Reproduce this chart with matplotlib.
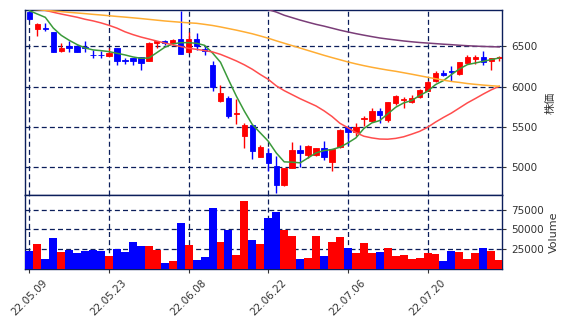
import matplotlib
matplotlib.use("Agg")
import matplotlib.pyplot as plt
import numpy as np

plt.rcParams['font.family'] = ['DejaVu Sans', 'Noto Sans CJK JP']

# OHLC (60 trading days)
opens = [6925, 6711, 6727, 6678, 6446, 6500, 6508, 6492, 6397, 6397,
         6384, 6479, 6335, 6355, 6368, 6314, 6537, 6566, 6545, 6591,
         6426, 6591, 6467, 6265, 5819, 5860, 5657, 5393, 5525, 5133,
         5178, 5013, 4774, 4993, 5211, 5158, 5158, 5240, 5063, 5249,
         5496, 5434, 5604, 5571, 5695, 5591, 5802, 5835, 5806, 5868,
         5951, 6066, 6170, 6194, 6157, 6289, 6347, 6368, 6314, 6355]
highs = [6935, 6785, 6785, 6680, 6541, 6570, 6512, 6570, 6459, 6438,
         6479, 6480, 6355, 6358, 6372, 6550, 6566, 6572, 6590, 6934,
         6678, 6665, 6500, 6322, 6025, 5880, 5852, 5550, 5530, 5282,
         5240, 5137, 4995, 5311, 5282, 5282, 5240, 5323, 5230, 5470,
         5509, 5550, 5633, 5736, 5736, 5815, 5901, 5868, 5901, 5971,
         6066, 6190, 6211, 6252, 6310, 6388, 6397, 6446, 6360, 6384]
lows = [6830, 6624, 6686, 6426, 6426, 6426, 6426, 6426, 6355, 6355,
        6384, 6265, 6281, 6265, 6203, 6314, 6479, 6512, 6512, 6409,
        6420, 6459, 6388, 5942, 5815, 5612, 5538, 5240, 5108, 5130,
        4951, 4683, 4770, 4990, 5000, 5116, 5137, 5096, 4951, 5245,
        5282, 5385, 5509, 5565, 5550, 5562, 5777, 5736, 5800, 5865,
        5945, 6060, 6128, 6066, 6150, 6285, 6285, 6273, 6211, 6322]
closes = [6840, 6781, 6715, 6426, 6479, 6483, 6426, 6475, 6388, 6388,
          6421, 6314, 6322, 6314, 6298, 6541, 6566, 6537, 6578, 6409,
          6591, 6500, 6438, 5992, 5918, 5641, 5670, 5525, 5199, 5249,
          5055, 4786, 4993, 5211, 5183, 5265, 5236, 5125, 5228, 5463,
          5434, 5505, 5616, 5695, 5645, 5810, 5880, 5852, 5860, 5959,
          6058, 6165, 6149, 6178, 6306, 6364, 6364, 6306, 6355, 6368]
volumes = [23300, 31600, 13000, 39000, 21650, 24550, 20400, 22900, 24550, 22900,
           16700, 25400, 21650, 34500, 29100, 29100, 24100, 8000, 10500, 57600,
           30300, 11700, 15450, 77500, 34050, 49350, 17900, 86150, 36500, 31600,
           65100, 72500, 49350, 41500, 13000, 14200, 41500, 16700, 34500, 40250,
           26600, 20400, 32800, 20400, 21650, 26600, 16700, 17900, 13000, 14200,
           20400, 19150, 10500, 22900, 21650, 13000, 20400, 26600, 22900, 11700]

# moving averages
ma5 = [6942, 6900, 6859, 6727, 6636, 6574, 6521, 6479, 6455, 6446,
       6434, 6413, 6393, 6368, 6351, 6355, 6421, 6488, 6529, 6545,
       6545, 6537, 6512, 6417, 6302, 6087, 5880, 5695, 5529, 5426,
       5323, 5178, 5067, 5063, 5055, 5116, 5178, 5207, 5220, 5249,
       5302, 5364, 5480, 5550, 5579, 5662, 5744, 5798, 5827, 5889,
       5942, 6025, 6075, 6149, 6219, 6273, 6293, 6314, 6335, 6355]
ma25 = [6990, 6968, 6946, 6922, 6900, 6880, 6860, 6835, 6815, 6790,
        6760, 6725, 6680, 6645, 6615, 6590, 6565, 6540, 6518, 6497,
        6475, 6462, 6447, 6430, 6400, 6360, 6318, 6270, 6215, 6150,
        6090, 6010, 5950, 5900, 5850, 5805, 5760, 5700, 5630, 5545,
        5490, 5430, 5385, 5364, 5350, 5348, 5358, 5378, 5410, 5445,
        5495, 5560, 5618, 5672, 5735, 5798, 5852, 5908, 5960, 6004]
ma75 = [6962, 6954, 6946, 6938, 6930, 6921, 6913, 6905, 6896, 6888,
        6879, 6870, 6862, 6853, 6844, 6834, 6824, 6814, 6806, 6798,
        6791, 6785, 6772, 6758, 6740, 6720, 6700, 6678, 6655, 6628,
        6600, 6568, 6538, 6508, 6478, 6448, 6418, 6388, 6360, 6333,
        6306, 6282, 6260, 6240, 6222, 6205, 6190, 6172, 6154, 6135,
        6116, 6098, 6080, 6064, 6052, 6038, 6028, 6019, 6011, 6004]
ma200 = [None] * 30 + [
        6955, 6925, 6885, 6855, 6825, 6798, 6772, 6750, 6725, 6700,
        6678, 6657, 6638, 6620, 6603, 6590, 6578, 6566, 6556, 6547,
        6540, 6533, 6526, 6520, 6513, 6507, 6502, 6498, 6495, 6492]

tick_pos = [0, 10, 20, 30, 40, 50]
tick_labels = ['22.05.09', '22.05.23', '22.06.08', '22.06.22', '22.07.06', '22.07.20']

o = np.array(opens, float)
h = np.array(highs, float)
l = np.array(lows, float)
c = np.array(closes, float)
x = np.arange(len(o))
up = c >= o
colors = np.where(up, '#ff0000', '#0000ff')

navy = '#0b1e5b'
W, H = 568, 326
fig = plt.figure(figsize=(W / 100, H / 100), dpi=100)
ax = fig.add_axes([25 / W, 1 - 195 / H, 477 / W, 185 / H])
axv = fig.add_axes([25 / W, 1 - 269 / H, 477 / W, 74 / H], sharex=ax)

for a in (ax, axv):
    for s in a.spines.values():
        s.set_color(navy)
        s.set_linewidth(1.0)
    a.grid(True, color=navy, linestyle=(0, (4, 2.5)), linewidth=0.9)
    a.set_axisbelow(True)
    a.yaxis.tick_right()
    a.yaxis.set_label_position('right')
    a.tick_params(labelsize=7.5, colors='#333333', length=3, width=0.8)

# candles
body_bottom = np.minimum(o, c)
body_h = np.maximum(np.abs(c - o), 8)
ax.vlines(x, l, h, colors=colors, linewidth=1.0, zorder=3)
ax.bar(x, body_h, bottom=body_bottom, width=0.68, color=colors,
       edgecolor=colors, linewidth=0.6, zorder=4)

ma200_arr = np.array([np.nan if v is None else v for v in ma200], float)
ax.plot(x, ma5, color='#3a9a3a', linewidth=1.1, zorder=5)
ax.plot(x, ma25, color='#ff4d4d', linewidth=1.1, zorder=5)
ax.plot(x, ma75, color='#ffad33', linewidth=1.1, zorder=5)
ax.plot(x, ma200_arr, color='#7a3d78', linewidth=1.1, zorder=5)

ax.set_ylim(4656, 6950)
ax.set_yticks([5000, 5500, 6000, 6500])
ax.set_ylabel('株価', fontsize=8, color='#333333',
              family=['Noto Sans CJK JP', 'DejaVu Sans'], labelpad=6)
ax.tick_params(axis='x', labelbottom=False)

axv.bar(x, volumes, width=1.0, color=colors, zorder=3)
axv.set_ylim(0, 93600)
axv.set_yticks([25000, 50000, 75000])
axv.set_ylabel('Volume', fontsize=8, color='#333333', labelpad=4)

axv.set_xlim(-0.55, 59.35)
axv.set_xticks(tick_pos)
axv.set_xticklabels(tick_labels, rotation=45, ha='center')

fig.savefig('out.png', dpi=100)
